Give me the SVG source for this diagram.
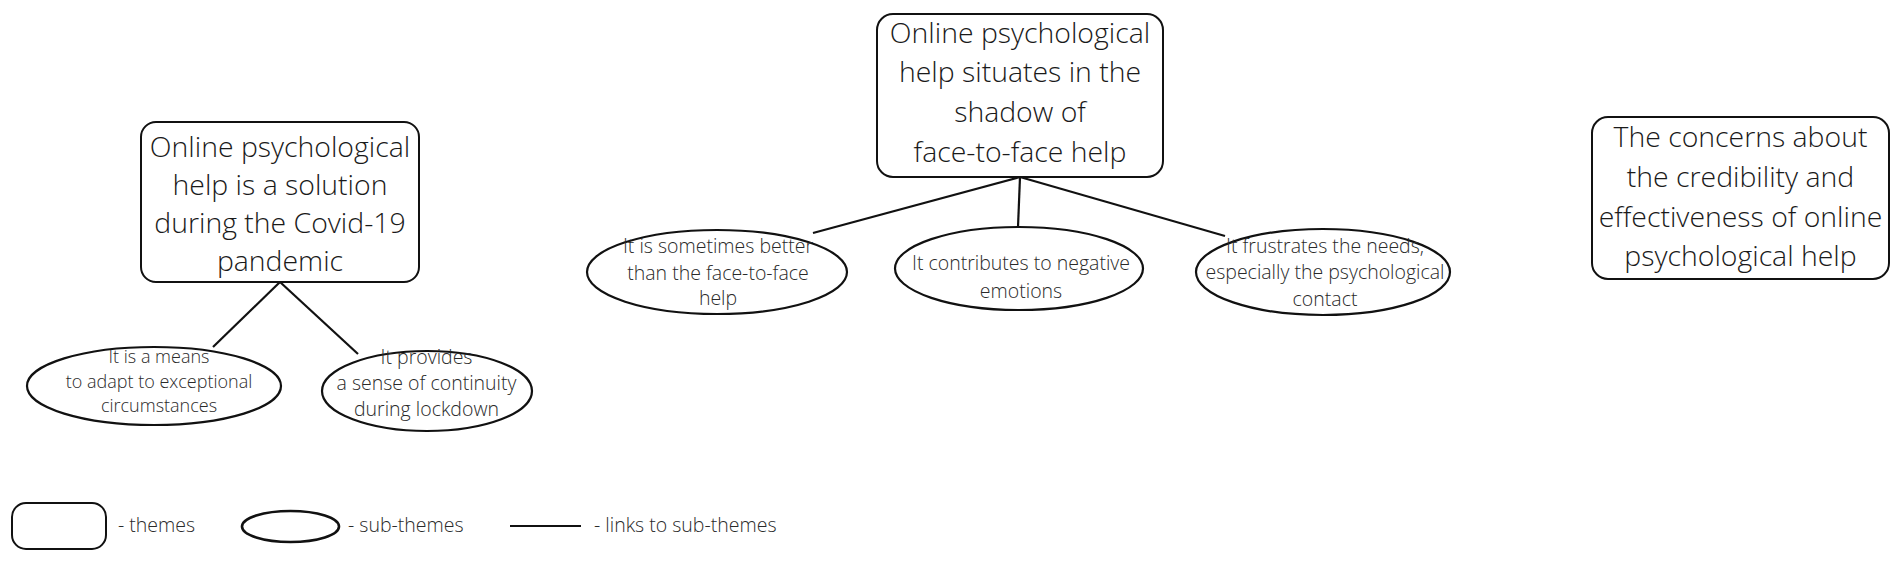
<svg xmlns="http://www.w3.org/2000/svg" width="1902" height="562" viewBox="0 0 1902 562">
<style>
.theme{fill:#fff;stroke:#111;stroke-width:2}
.sub{fill:#fff;stroke:#111;stroke-width:2.2}
.link{stroke:#111;stroke-width:2.2;fill:none}
.tt{font-family:"Open Sans","Noto Sans","Liberation Sans",sans-serif;font-weight:300;font-size:28.4px;fill:#1a1a1a;text-anchor:middle}
.st{font-family:"Open Sans","Noto Sans","Liberation Sans",sans-serif;font-weight:300;font-size:19.5px;fill:#2a2a2a;text-anchor:middle}
.lt{font-family:"Open Sans","Noto Sans","Liberation Sans",sans-serif;font-weight:300;font-size:19.5px;fill:#2a2a2a}
</style>
<rect width="1902" height="562" fill="#fff"/>
<g id="connectors">
<line class="link" x1="280" y1="282" x2="213" y2="347"/>
<line class="link" x1="280" y1="282" x2="358" y2="354"/>
<line class="link" x1="1020" y1="177" x2="813" y2="233"/>
<line class="link" x1="1020" y1="177" x2="1018" y2="227"/>
<line class="link" x1="1020" y1="177" x2="1225" y2="236"/>
</g>
<g id="theme1">
<rect class="theme" x="141" y="122" width="278" height="160" rx="15"/>
<text class="tt"><tspan x="280" y="157">Online psychological</tspan><tspan x="280" y="195">help is a solution</tspan><tspan x="280" y="233">during the Covid-19</tspan><tspan x="280" y="271">pandemic</tspan></text>
</g>
<g id="theme2">
<rect class="theme" x="877" y="14" width="286" height="163" rx="16"/>
<text class="tt"><tspan x="1020" y="43">Online psychological</tspan><tspan x="1020" y="82">help situates in the</tspan><tspan x="1020" y="122">shadow of</tspan><tspan x="1020" y="162">face-to-face help</tspan></text>
</g>
<g id="theme3">
<rect class="theme" x="1592" y="117" width="297" height="162" rx="16"/>
<text class="tt"><tspan x="1740.5" y="147">The concerns about</tspan><tspan x="1740.5" y="187">the credibility and</tspan><tspan x="1740.5" y="227">effectiveness of online</tspan><tspan x="1740.5" y="266">psychological help</tspan></text>
</g>
<g id="sub1">
<ellipse class="sub" cx="154" cy="386" rx="127" ry="39"/>
<text class="st" style="font-size:18px"><tspan x="159" y="363">It is a means</tspan><tspan x="159" y="388">to adapt to exceptional</tspan><tspan x="159" y="412">circumstances</tspan></text>
</g>
<g id="sub2">
<ellipse class="sub" cx="427" cy="391" rx="105" ry="40"/>
<text class="st"><tspan x="426.5" y="364">It provides</tspan><tspan x="426.5" y="390">a sense of continuity</tspan><tspan x="426.5" y="416">during lockdown</tspan></text>
</g>
<g id="sub3">
<ellipse class="sub" cx="717" cy="272" rx="130" ry="42"/>
<text class="st"><tspan x="718" y="253">It is sometimes better</tspan><tspan x="718" y="280">than the face-to-face</tspan><tspan x="718" y="305">help</tspan></text>
</g>
<g id="sub4">
<ellipse class="sub" cx="1019" cy="268.5" rx="124" ry="41.5"/>
<text class="st"><tspan x="1021" y="270">It contributes to negative</tspan><tspan x="1021" y="298">emotions</tspan></text>
</g>
<g id="sub5">
<ellipse class="sub" cx="1323" cy="272" rx="127" ry="43"/>
<text class="st"><tspan x="1325" y="253">It frustrates the needs,</tspan><tspan x="1325" y="279">especially the psychological</tspan><tspan x="1325" y="306">contact</tspan></text>
</g>
<g id="legend">
<rect class="theme" x="12" y="503" width="94" height="46" rx="14"/>
<text class="lt" x="118" y="532">- themes</text>
<ellipse class="sub" cx="290.5" cy="526.5" rx="48.5" ry="15.5" style="stroke-width:2.6"/>
<text class="lt" x="348" y="532">- sub-themes</text>
<line class="link" x1="510" y1="526" x2="581" y2="526"/>
<text class="lt" x="594" y="532">- links to sub-themes</text>
</g>
</svg>
